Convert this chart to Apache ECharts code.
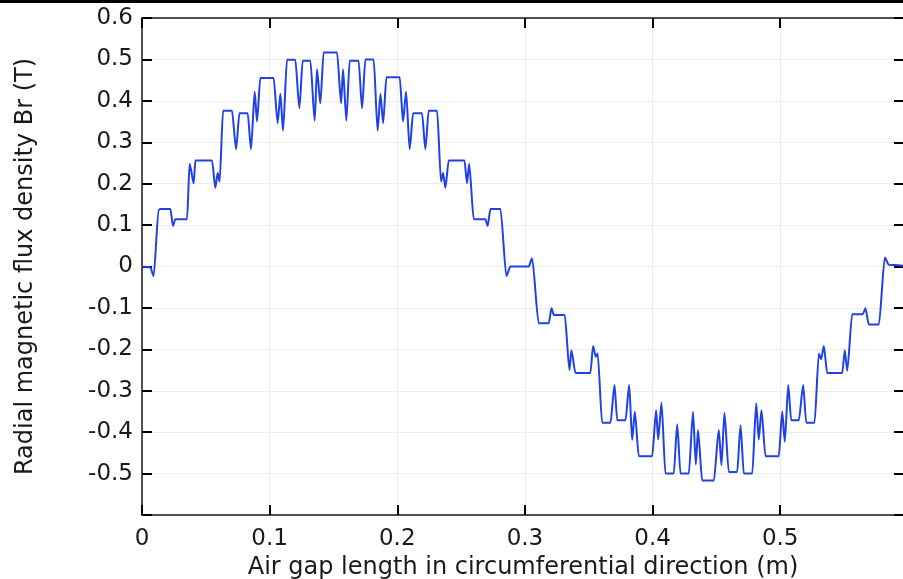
<!DOCTYPE html>
<html>
<head>
<meta charset="utf-8">
<title>Radial magnetic flux density along the air gap</title>
<script src="https://cdn.jsdelivr.net/npm/echarts@6/dist/echarts.min.js"></script>
<style>
  html, body { margin: 0; padding: 0; background: #ffffff; }
  #chart { width: 903px; height: 579px; }
</style>
</head>
<body>
<div id="chart"></div>
<script>
// Position along the air gap (m)
const positionM = [
  0.0000, 0.0065, 0.0091, 0.0130, 0.0143, 0.0222, 0.0243, 0.0261, 0.0353, 0.0373,
  0.0405, 0.0418, 0.0549, 0.0574, 0.0593, 0.0608, 0.0635, 0.0705, 0.0737, 0.0763,
  0.0828, 0.0854, 0.0883, 0.0901, 0.0927, 0.1031, 0.1063, 0.1084, 0.1105, 0.1136,
  0.1201, 0.1233, 0.1259, 0.1319, 0.1353, 0.1371, 0.1397, 0.1423, 0.1528, 0.1560,
  0.1575, 0.1601, 0.1627, 0.1697, 0.1724, 0.1750, 0.1815, 0.1846, 0.1868, 0.1889,
  0.1915, 0.2019, 0.2045, 0.2069, 0.2097, 0.2124, 0.2194, 0.2220, 0.2246, 0.2312,
  0.2343, 0.2359, 0.2377, 0.2403, 0.2526, 0.2547, 0.2563, 0.2599, 0.2690, 0.2708,
  0.2730, 0.2808, 0.2855, 0.2886, 0.3030, 0.3056, 0.3108, 0.3187, 0.3208, 0.3227,
  0.3312, 0.3349, 0.3364, 0.3396, 0.3513, 0.3534, 0.3555, 0.3570, 0.3605, 0.3670,
  0.3702, 0.3723, 0.3788, 0.3817, 0.3840, 0.3861, 0.3892, 0.3997, 0.4028, 0.4044,
  0.4070, 0.4101, 0.4166, 0.4193, 0.4219, 0.4284, 0.4317, 0.4339, 0.4356, 0.4389,
  0.4480, 0.4519, 0.4540, 0.4563, 0.4597, 0.4663, 0.4689, 0.4715, 0.4781, 0.4812,
  0.4832, 0.4853, 0.4885, 0.4989, 0.5016, 0.5036, 0.5063, 0.5086, 0.5146, 0.5180,
  0.5204, 0.5269, 0.5303, 0.5321, 0.5342, 0.5368, 0.5486, 0.5506, 0.5525, 0.5564,
  0.5647, 0.5668, 0.5694, 0.5773, 0.5820, 0.5851, 0.5966
];

// Radial flux density Br (T) at each position
const fluxBr = [
   0.000, -0.002, -0.023,  0.136,  0.139,  0.139,  0.098,  0.114,  0.114,  0.248,
   0.201,  0.256,  0.256,  0.190,  0.226,  0.205,  0.376,  0.376,  0.283,  0.370,
   0.370,  0.283,  0.422,  0.350,  0.455,  0.455,  0.346,  0.417,  0.328,  0.499,
   0.499,  0.382,  0.497,  0.497,  0.352,  0.476,  0.394,  0.517,  0.517,  0.394,
   0.476,  0.352,  0.497,  0.497,  0.382,  0.500,  0.500,  0.328,  0.417,  0.346,
   0.457,  0.457,  0.350,  0.422,  0.283,  0.370,  0.370,  0.283,  0.376,  0.376,
   0.205,  0.226,  0.190,  0.256,  0.256,  0.201,  0.248,  0.114,  0.114,  0.098,
   0.139,  0.139, -0.023,  0.000,  0.000,  0.020, -0.137, -0.137, -0.101, -0.117,
  -0.117, -0.250, -0.202, -0.257, -0.257, -0.192, -0.218, -0.210, -0.377, -0.377,
  -0.286, -0.371, -0.371, -0.286, -0.419, -0.351, -0.458, -0.458, -0.347, -0.418,
  -0.329, -0.500, -0.500, -0.381, -0.500, -0.500, -0.351, -0.478, -0.395, -0.517,
  -0.517, -0.395, -0.480, -0.353, -0.496, -0.496, -0.383, -0.500, -0.500, -0.330,
  -0.418, -0.347, -0.458, -0.458, -0.350, -0.423, -0.286, -0.371, -0.371, -0.286,
  -0.377, -0.377, -0.210, -0.224, -0.192, -0.257, -0.257, -0.202, -0.252, -0.115,
  -0.115, -0.101, -0.140, -0.140,  0.022,  0.004,  0.002
];

const xTitle = 'Air gap length in circumferential direction (m)';
const yTitle = 'Radial magnetic flux density Br (T)';

const FONT = 'DejaVu Sans';
const INK = '#1a1a1a';
const GRID_COLOR = '#ececec';

const seriesData = positionM.map((x, i) => [x, fluxBr[i]]);

function fmtTick(v) {
  const r = Math.round(v * 10) / 10;
  if (Math.abs(v - r) > 1e-6) return '';
  return r === 0 ? '0' : String(r);
}

const chart = echarts.init(document.getElementById('chart'), null, { renderer: 'canvas' });

const axisLineStyle = { show: true, onZero: false, lineStyle: { color: INK, width: 1.5 } };
const tickInside = { show: true, inside: true, length: 10, lineStyle: { color: '#000000', width: 2 } };

chart.setOption({
  animation: false,
  backgroundColor: '#ffffff',
  grid: { left: 142, right: -1, top: 18, bottom: 64, containLabel: false, outerBoundsMode: 'none' },
  graphic: [
    { type: 'rect', left: 0, top: 0, shape: { x: 0, y: 0, width: 903, height: 3 }, style: { fill: '#000000' } }
  ],
  xAxis: [
    {
      type: 'value', position: 'bottom', min: 0, max: 0.597, interval: 0.1,
      name: xTitle, nameLocation: 'middle', nameGap: 29,
      nameTextStyle: { fontFamily: FONT, fontSize: 24, color: INK },
      axisLine: axisLineStyle, axisTick: tickInside,
      axisLabel: { fontFamily: FONT, fontSize: 23, color: INK, margin: 13, showMaxLabel: false, formatter: fmtTick },
      splitLine: { show: true, lineStyle: { color: GRID_COLOR, width: 1 } }
    },
    {
      type: 'value', position: 'top', min: 0, max: 0.597, interval: 0.1,
      axisLine: axisLineStyle, axisTick: tickInside,
      axisLabel: { show: false }, splitLine: { show: false }
    }
  ],
  yAxis: [
    {
      type: 'value', position: 'left', min: -0.6, max: 0.6, interval: 0.1,
      name: yTitle, nameLocation: 'middle', nameGap: 104,
      nameTextStyle: { fontFamily: FONT, fontSize: 24, color: INK },
      axisLine: axisLineStyle, axisTick: tickInside,
      axisLabel: {
        fontFamily: FONT, fontSize: 23, color: INK, margin: 9,
        formatter: v => (v < -0.55 ? '' : fmtTick(v))
      },
      splitLine: { show: true, lineStyle: { color: GRID_COLOR, width: 1 } }
    },
    {
      type: 'value', position: 'right', min: -0.6, max: 0.6, interval: 0.1,
      axisLine: axisLineStyle, axisTick: tickInside,
      axisLabel: { show: false }, splitLine: { show: false }
    }
  ],
  series: [
    {
      type: 'line', xAxisIndex: 0, yAxisIndex: 0,
      data: seriesData, showSymbol: false, symbol: 'none',
      smooth: 0.25, smoothMonotone: 'x',
      lineStyle: { color: '#2040e8', width: 2 }
    }
  ]
});
</script>
</body>
</html>
